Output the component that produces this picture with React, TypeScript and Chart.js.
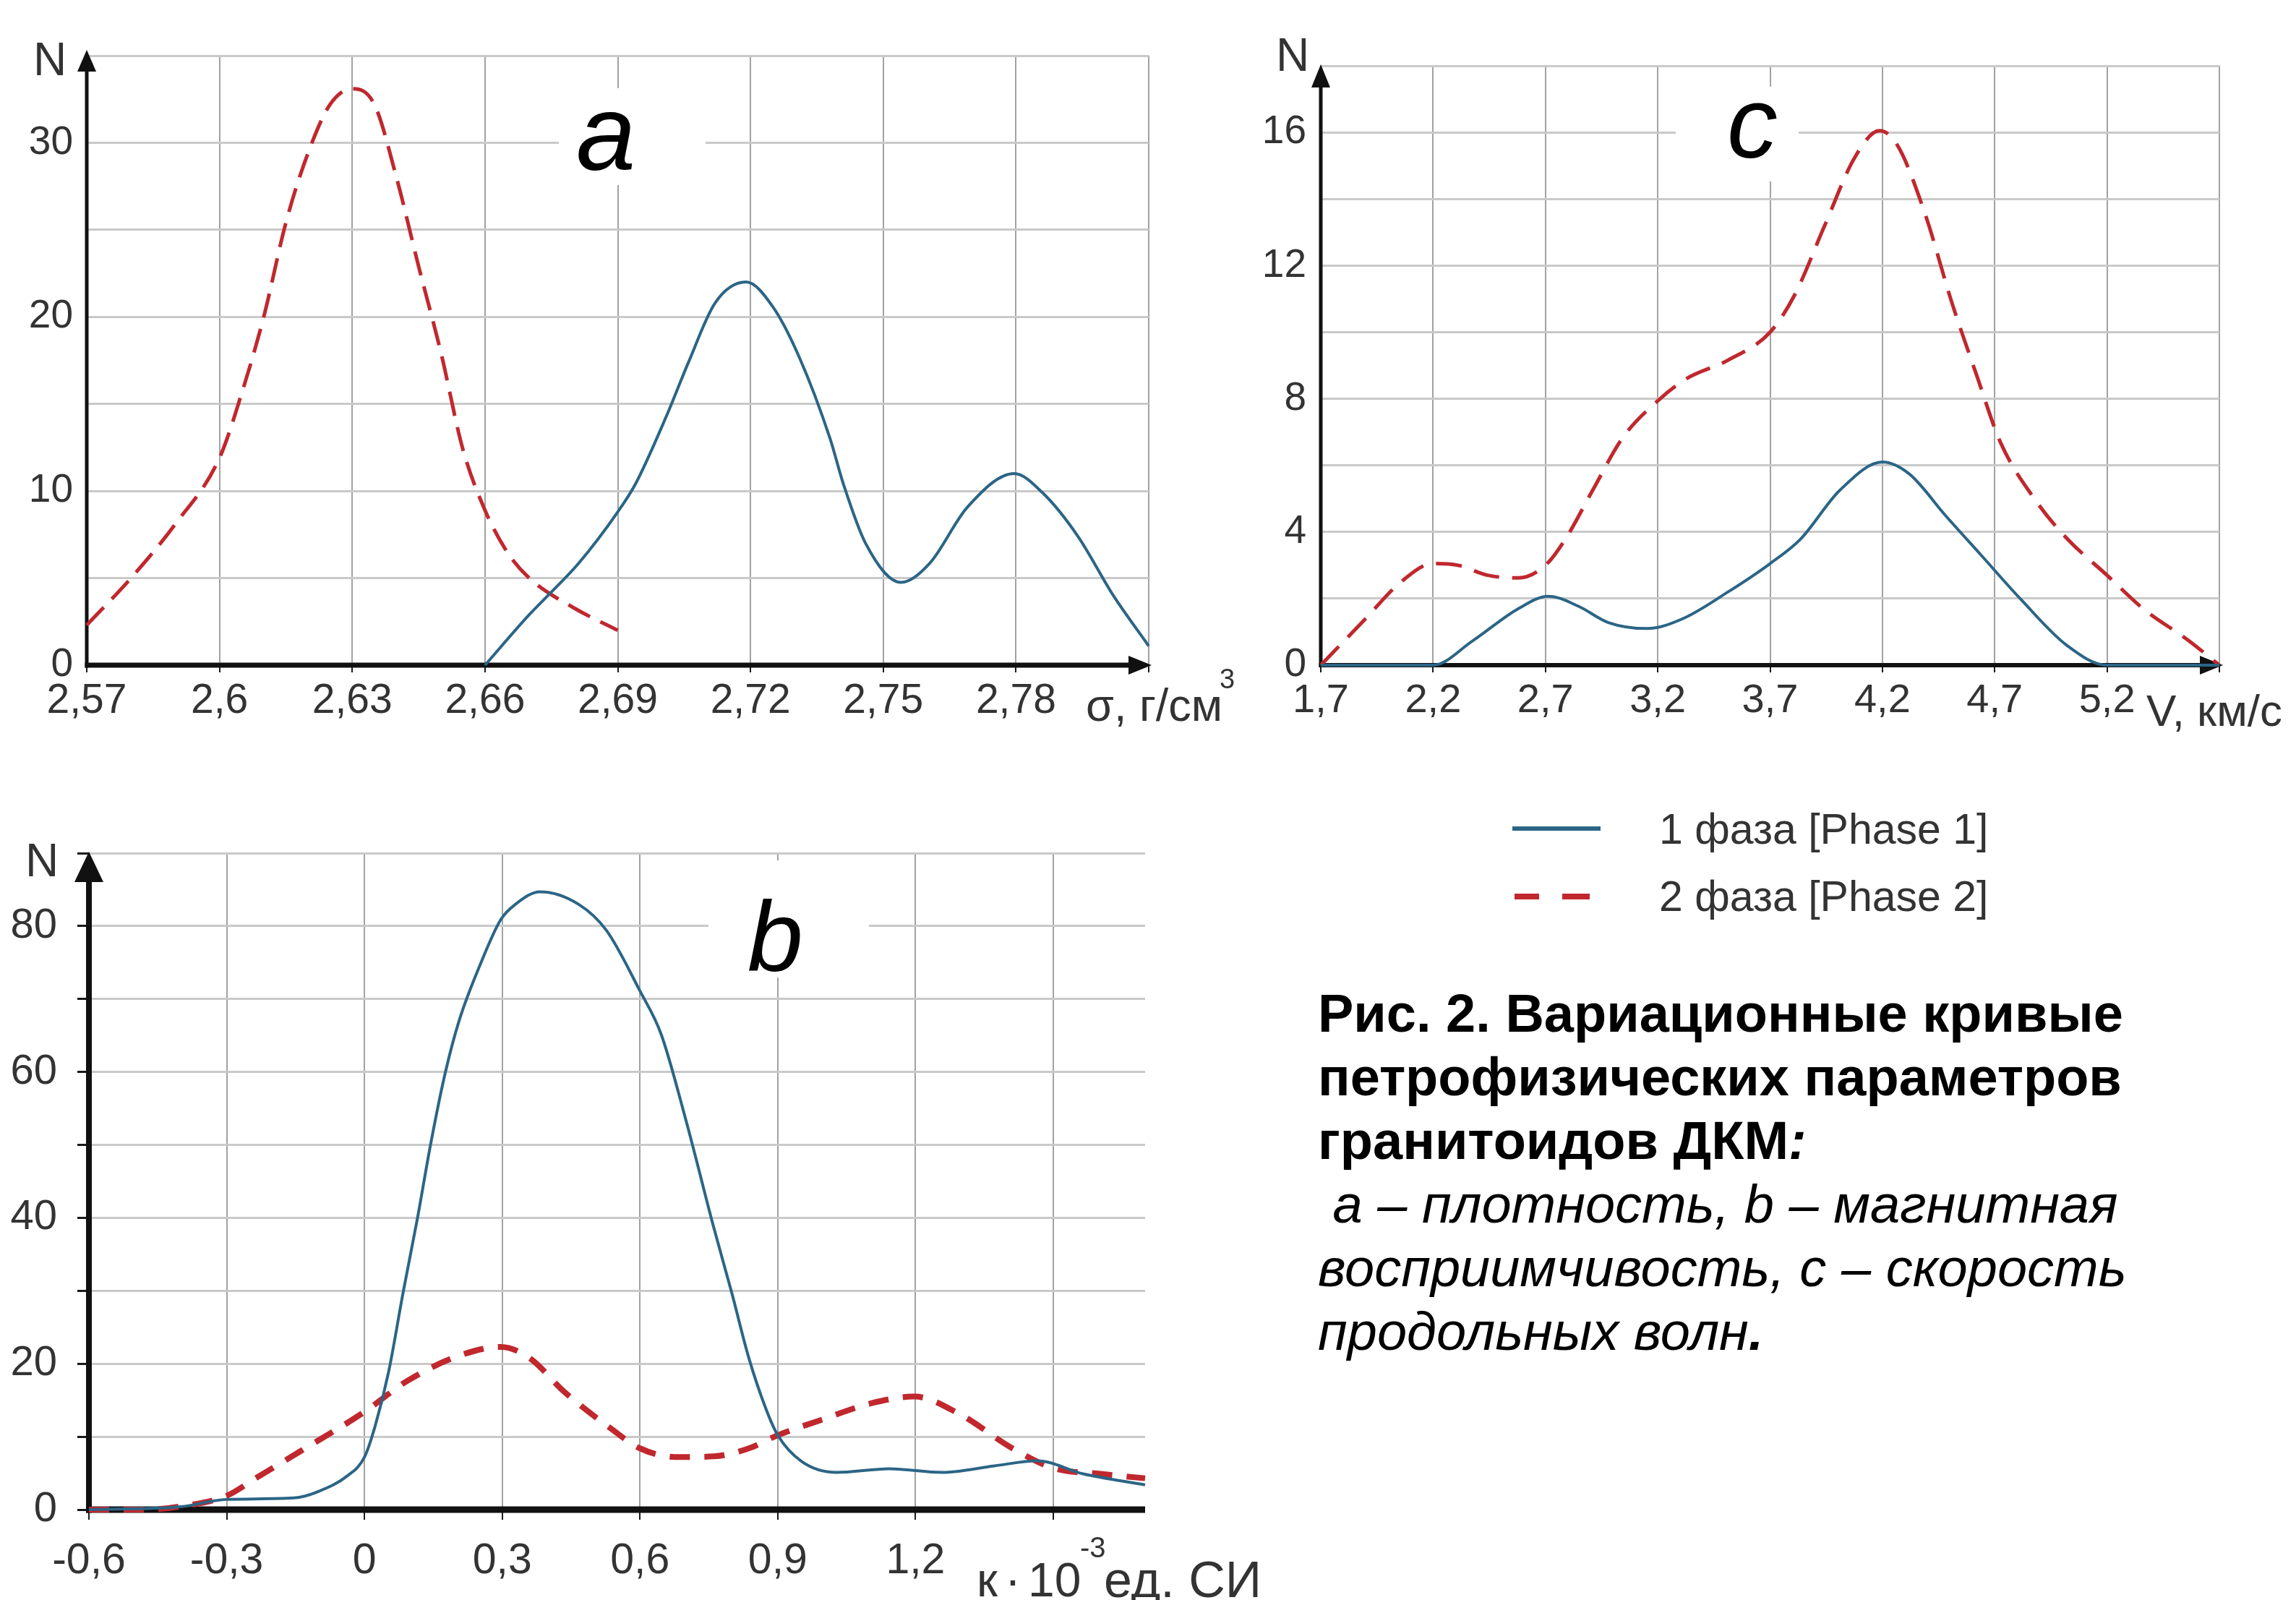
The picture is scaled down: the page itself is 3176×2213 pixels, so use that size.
import React, { useEffect, useRef } from "react";
import { Chart, registerables } from "chart.js";

Chart.register(...registerables);

// ================= DATA =================
// Panel a — density σ, г/см³
const densityTicks = [2.57, 2.6, 2.63, 2.66, 2.69, 2.72, 2.75, 2.78, 2.81];
const densityTickLabels = ["2,57", "2,6", "2,63", "2,66", "2,69", "2,72", "2,75", "2,78", ""];
const densityCountTicks = [0, 5, 10, 15, 20, 25, 30, 35];
const densityCountLabels = ["0", "", "10", "", "20", "", "30", ""];
const densityPhase1X = [2.66, 2.67, 2.675, 2.681, 2.69, 2.694, 2.701, 2.706, 2.712, 2.719, 2.725, 2.731, 2.738, 2.741, 2.746, 2.754, 2.7605, 2.769, 2.7796, 2.786, 2.794, 2.802, 2.81];
const densityPhase1Y = [0, 2.9, 4.2, 5.8, 8.8, 10.4, 14.3, 17.4, 20.8, 22.0, 20.6, 17.7, 13.0, 10.4, 7.0, 4.75, 5.85, 9.07, 11.0, 9.9, 7.4, 4.0, 1.1];
const densityPhase2X = [2.57, 2.58, 2.59, 2.6, 2.605, 2.61, 2.615, 2.62, 2.625, 2.63, 2.635, 2.64, 2.645, 2.65, 2.655, 2.66, 2.665, 2.67, 2.68, 2.69];
const densityPhase2Y = [2.3, 5.0, 8.1, 11.9, 15.6, 20.0, 25.4, 29.4, 32.2, 33.1, 32.2, 28.0, 22.9, 18.0, 12.4, 8.9, 6.5, 5.0, 3.3, 2.0];

// Panel b — magnetic susceptibility κ·10⁻³ ед. СИ
const suscTicks = [-0.6, -0.3, 0, 0.3, 0.6, 0.9, 1.2, 1.5];
const suscTickLabels = ["-0,6", "-0,3", "0", "0,3", "0,6", "0,9", "1,2", ""];
const suscCountTicks = [0, 10, 20, 30, 40, 50, 60, 70, 80, 90];
const suscCountLabels = ["0", "", "20", "", "40", "", "60", "", "80", ""];
const suscPhase1X = [-0.6, -0.4, -0.3, -0.153, -0.1, -0.038, 0, 0.023, 0.053, 0.084, 0.115, 0.145, 0.176, 0.206, 0.252, 0.297, 0.329, 0.382, 0.466, 0.527, 0.6, 0.646, 0.7, 0.761, 0.8, 0.837, 0.875, 0.9, 0.952, 1.028, 1.143, 1.258, 1.372, 1.465, 1.565, 1.7];
const suscPhase1Y = [0, 0.4, 1.4, 1.6, 2.5, 4.6, 7.2, 11.4, 19, 29.7, 39.8, 50.4, 59.9, 67, 74.7, 80.9, 83, 84.7, 83, 79.4, 71.1, 65.2, 53.4, 38.6, 29.7, 20.8, 13.7, 10.2, 6.6, 5.1, 5.6, 5.1, 6.0, 6.7, 4.9, 3.4];
const suscPhase2X = [-0.6, -0.48, -0.405, -0.3, -0.237, -0.137, 0, 0.092, 0.206, 0.297, 0.359, 0.436, 0.535, 0.6, 0.684, 0.761, 0.837, 0.9, 0.99, 1.105, 1.197, 1.296, 1.411, 1.5, 1.603, 1.7];
const suscPhase2Y = [0, 0, 0.4, 1.9, 4.3, 8.1, 13.4, 17.6, 21.1, 22.3, 20.8, 16.1, 11.2, 8.4, 7.2, 7.3, 8.4, 10.2, 12.2, 14.6, 15.5, 13.1, 8.4, 5.7, 4.9, 4.3];

// Panel c — P-wave velocity V, км/с
const velTicks = [1.7, 2.2, 2.7, 3.2, 3.7, 4.2, 4.7, 5.2, 5.7];
const velTickLabels = ["1,7", "2,2", "2,7", "3,2", "3,7", "4,2", "4,7", "5,2", ""];
const velCountTicks = [0, 2, 4, 6, 8, 10, 12, 14, 16, 18];
const velCountLabels = ["0", "", "4", "", "8", "", "12", "", "16", ""];
const velPhase1X = [1.7, 2.2, 2.376, 2.58, 2.713, 2.847, 2.98, 3.153, 3.313, 3.513, 3.7, 3.835, 4.01, 4.2, 4.32, 4.48, 4.64, 4.82, 5.02, 5.2, 5.7];
const velPhase1Y = [0, 0, 0.73, 1.7, 2.07, 1.77, 1.28, 1.1, 1.4, 2.2, 3.05, 3.78, 5.25, 6.1, 5.74, 4.5, 3.3, 1.95, 0.6, 0, 0];
const velPhase2X = [1.7, 1.9, 2.047, 2.2, 2.31, 2.443, 2.58, 2.7, 2.79, 2.91, 3.045, 3.2, 3.327, 3.513, 3.7, 3.808, 3.943, 4.078, 4.187, 4.268, 4.39, 4.51, 4.62, 4.725, 4.887, 5.022, 5.2, 5.36, 5.565, 5.7];
const velPhase2Y = [0, 1.4, 2.44, 3.05, 3.0, 2.7, 2.62, 3.0, 3.8, 5.25, 6.84, 7.94, 8.6, 9.16, 10.0, 11.1, 13.2, 15.26, 16.05, 15.6, 13.55, 10.87, 8.7, 6.7, 4.9, 3.8, 2.7, 1.7, 0.73, 0];

const legendLabels = ["1 фаза [Phase 1]", "2 фаза [Phase 2]"];

// ================= STYLE =================
const PHASE1_COLOR = "#2b6586";
const PHASE2_COLOR = "#c0282e";
const GRID_V = "#a2a2a2";
const GRID_H = "#c9c9c9";
const TICK_COLOR = "#333333";
const FONT = "'Liberation Sans', Arial, sans-serif";

const axisArrows = {
  id: "axisArrows",
  beforeDatasetsDraw(chart: any, _args: any, o: any) {
    const { ctx, chartArea } = chart;
    const { left, right, top, bottom } = chartArea;
    ctx.save();
    ctx.fillStyle = "#111";
    ctx.strokeStyle = "#111";
    // y axis
    const yTip = top - o.yTipAbove;
    ctx.lineWidth = o.yWidth;
    ctx.beginPath();
    ctx.moveTo(left, bottom + o.xWidth / 2);
    ctx.lineTo(left, yTip + o.yHeadL * 0.7);
    ctx.stroke();
    ctx.beginPath();
    ctx.moveTo(left, yTip);
    ctx.lineTo(left - o.yHeadW / 2, yTip + o.yHeadL);
    ctx.lineTo(left + o.yHeadW / 2, yTip + o.yHeadL);
    ctx.closePath();
    ctx.fill();
    // x axis
    const xEnd = right + o.xTipRight;
    ctx.lineWidth = o.xWidth;
    ctx.beginPath();
    ctx.moveTo(left - o.yWidth / 2, bottom);
    ctx.lineTo(o.xArrow ? xEnd - o.xHeadL * 0.7 : xEnd, bottom);
    ctx.stroke();
    if (o.xArrow) {
      ctx.beginPath();
      ctx.moveTo(xEnd, bottom);
      ctx.lineTo(xEnd - o.xHeadL, bottom - o.xHeadW / 2);
      ctx.lineTo(xEnd - o.xHeadL, bottom + o.xHeadW / 2);
      ctx.closePath();
      ctx.fill();
    }
    ctx.restore();
  },
};

type Series = { label: string; xs: number[]; ys: number[]; color: string; width: number; dash?: number[] };

function buildConfig(p: any) {
  return {
    type: "line",
    data: {
      datasets: p.series.map((s: Series) => ({
        label: s.label,
        data: s.xs.map((x, i) => ({ x, y: s.ys[i] })),
        borderColor: s.color,
        backgroundColor: s.color,
        borderWidth: s.width,
        borderDash: s.dash || [],
        borderCapStyle: "butt",
        pointRadius: 0,
        pointHoverRadius: 0,
        fill: false,
        cubicInterpolationMode: "monotone",
        clip: false,
      })),
    },
    options: {
      animation: false,
      responsive: false,
      devicePixelRatio: 1,
      events: [],
      layout: { padding: { top: p.padTop, right: p.padRight, left: 0, bottom: 0 } },
      plugins: { legend: { display: false }, tooltip: { enabled: false }, axisArrows: p.arrows },
      scales: {
        x: {
          type: "linear",
          min: p.xTicks[0],
          max: p.xMax,
          afterBuildTicks: (s: any) => {
            s.ticks = p.xTicks.map((v: number) => ({ value: v }));
          },
          afterFit: (s: any) => {
            s.height = p.xAxisH;
          },
          border: { display: false },
          grid: {
            color: GRID_V,
            lineWidth: 2,
            drawTicks: true,
            tickLength: p.xTickLen,
            tickColor: "#1a1a1a",
            tickWidth: 2,
          },
          ticks: {
            autoSkip: false,
            maxRotation: 0,
            minRotation: 0,
            padding: p.xTickPad,
            color: TICK_COLOR,
            font: { family: FONT, size: p.xFontSize },
            callback: (_v: any, i: number) => p.xLabels[i],
          },
        },
        y: {
          type: "linear",
          min: p.yTicks[0],
          max: p.yTicks[p.yTicks.length - 1],
          afterBuildTicks: (s: any) => {
            s.ticks = p.yTicks.map((v: number) => ({ value: v }));
          },
          afterFit: (s: any) => {
            s.width = p.yAxisW;
          },
          border: { display: false },
          grid: {
            color: GRID_H,
            lineWidth: 3,
            drawTicks: p.yTickLen > 0,
            tickLength: p.yTickLen,
            tickColor: "#1a1a1a",
            tickWidth: 3,
          },
          ticks: {
            autoSkip: false,
            padding: p.yTickPad,
            color: TICK_COLOR,
            font: { family: FONT, size: p.yFontSize },
            callback: (_v: any, i: number) => p.yLabels[i],
          },
        },
      },
    },
    plugins: [axisArrows],
  };
}

function Panel(props: { left: number; top: number; width: number; height: number; spec: any }) {
  const ref = useRef<HTMLCanvasElement>(null);
  useEffect(() => {
    const chart = new Chart(ref.current as HTMLCanvasElement, buildConfig(props.spec) as any);
    return () => chart.destroy();
  }, []);
  return (
    <canvas
      ref={ref}
      width={props.width}
      height={props.height}
      style={{ position: "absolute", left: props.left, top: props.top, width: props.width, height: props.height }}
    />
  );
}

const specA = {
  xTicks: densityTicks,
  xLabels: densityTickLabels,
  xMax: 2.81,
  yTicks: densityCountTicks,
  yLabels: densityCountLabels,
  series: [
    { label: legendLabels[0], xs: densityPhase1X, ys: densityPhase1Y, color: PHASE1_COLOR, width: 4 },
    { label: legendLabels[1], xs: densityPhase2X, ys: densityPhase2Y, color: PHASE2_COLOR, width: 5, dash: [34, 16] },
  ],
  padTop: 77,
  padRight: 111,
  yAxisW: 120,
  xAxisH: 1030 - 920,
  xTickLen: 10,
  xTickPad: 6,
  yTickLen: 0,
  yTickPad: 19,
  xFontSize: 57,
  yFontSize: 55,
  arrows: { yTipAbove: 8, yWidth: 5, yHeadW: 26, yHeadL: 30, xWidth: 7, xTipRight: 4, xArrow: true, xHeadW: 26, xHeadL: 32 },
};

const specB = {
  xTicks: suscTicks,
  xLabels: suscTickLabels,
  xMax: 1.7,
  yTicks: suscCountTicks,
  yLabels: suscCountLabels,
  series: [
    { label: legendLabels[0], xs: suscPhase1X, ys: suscPhase1Y, color: PHASE1_COLOR, width: 4 },
    { label: legendLabels[1], xs: suscPhase2X, ys: suscPhase2Y, color: PHASE2_COLOR, width: 8, dash: [28, 20] },
  ],
  padTop: 80,
  padRight: 116,
  yAxisW: 123,
  xAxisH: 1113 - 988,
  xTickLen: 14,
  xTickPad: 22,
  yTickLen: 16,
  yTickPad: 28,
  xFontSize: 59,
  yFontSize: 58,
  arrows: { yTipAbove: 2, yWidth: 8, yHeadW: 40, yHeadL: 42, xWidth: 9, xTipRight: 0, xArrow: false, xHeadW: 0, xHeadL: 0 },
};

const specC = {
  xTicks: velTicks,
  xLabels: velTickLabels,
  xMax: 5.7,
  yTicks: velCountTicks,
  yLabels: velCountLabels,
  series: [
    { label: legendLabels[0], xs: velPhase1X, ys: velPhase1Y, color: PHASE1_COLOR, width: 4 },
    { label: legendLabels[1], xs: velPhase2X, ys: velPhase2Y, color: PHASE2_COLOR, width: 5, dash: [36, 18] },
  ],
  padTop: 91,
  padRight: 1436 - 1330,
  yAxisW: 87,
  xAxisH: 1030 - 920,
  xTickLen: 10,
  xTickPad: 6,
  yTickLen: 0,
  yTickPad: 20,
  xFontSize: 56,
  yFontSize: 55,
  arrows: { yTipAbove: 2, yWidth: 5, yHeadW: 26, yHeadL: 32, xWidth: 6, xTipRight: 5, xArrow: true, xHeadW: 26, xHeadL: 32 },
};

const abs = (left: number, top: number, extra: any = {}) => ({ position: "absolute" as const, left, top, ...extra });

function Txt(props: { left: number; top: number; size: number; children: any; style?: any }) {
  return (
    <div
      style={abs(props.left, props.top, {
        fontSize: props.size,
        lineHeight: `${props.size}px`,
        whiteSpace: "pre",
        fontFamily: FONT,
        color: TICK_COLOR,
        ...(props.style || {}),
      })}
    >
      {props.children}
    </div>
  );
}

export default function App() {
  return (
    <div
      style={{
        position: "absolute",
        left: 0,
        top: 0,
        width: 3176,
        height: 2213,
        background: "#ffffff",
        overflow: "hidden",
        fontFamily: FONT,
      }}
    >
      <Panel left={0} top={0} width={1700} height={1030} spec={specA} />
      <Panel left={1740} top={0} width={1436} height={1030} spec={specC} />
      <Panel left={0} top={1100} width={1700} height={1113} spec={specB} />

      {/* axis "N" labels */}
      <Txt left={46} top={50} size={64}>N</Txt>
      <Txt left={1765} top={44} size={64}>N</Txt>
      <Txt left={35} top={1158} size={64}>N</Txt>

      {/* axis titles */}
      <Txt left={1502} top={944} size={63}>σ, г/см</Txt>
      <Txt left={1687} top={920} size={38}>3</Txt>
      <Txt left={2969} top={952} size={62}>V, км/с</Txt>
      <Txt left={1351} top={2152} size={66}>к</Txt>
      <Txt left={1390} top={2152} size={66}>·</Txt>
      <Txt left={1422} top={2152} size={66}>10</Txt>
      <Txt left={1494} top={2120} size={40}>-3</Txt>
      <Txt left={1527} top={2150} size={70}>ед. СИ</Txt>

      {/* panel letters with white masks */}
      <div style={abs(773, 122, { width: 203, height: 134, background: "#fff" })} />
      <Txt left={797} top={110} size={148} style={{ fontStyle: "italic", color: "#000" }}>a</Txt>
      <div style={abs(980, 1190, { width: 222, height: 162, background: "#fff" })} />
      <Txt left={1034} top={1226} size={138} style={{ fontStyle: "italic", color: "#000" }}>b</Txt>
      <div style={abs(2318, 120, { width: 170, height: 131, background: "#fff" })} />
      <Txt left={2389} top={100} size={140} style={{ fontStyle: "italic", color: "#000" }}>c</Txt>

      {/* legend */}
      <div style={abs(2092, 1143, { width: 122, height: 6, background: PHASE1_COLOR })} />
      <div style={abs(2095, 1236, { width: 34, height: 8, background: PHASE2_COLOR })} />
      <div style={abs(2161, 1236, { width: 38, height: 8, background: PHASE2_COLOR })} />
      <Txt left={2295} top={1118} size={59}>{legendLabels[0]}</Txt>
      <Txt left={2295} top={1211} size={59}>{legendLabels[1]}</Txt>

      {/* caption */}
      <div
        style={abs(1823, 1358, {
          fontSize: 74,
          lineHeight: "88px",
          whiteSpace: "pre",
          color: "#000",
          fontFamily: FONT,
        })}
      >
        <div style={{ fontWeight: "bold" }}>Рис. 2. Вариационные кривые</div>
        <div style={{ fontWeight: "bold" }}>петрофизических параметров</div>
        <div style={{ fontWeight: "bold" }}>
          гранитоидов ДКМ<i>:</i>
        </div>
        <div style={{ fontStyle: "italic" }}> a – плотность, b – магнитная</div>
        <div style={{ fontStyle: "italic" }}>восприимчивость, c – скорость</div>
        <div style={{ fontStyle: "italic" }}>
          продольных волн<b>.</b>
        </div>
      </div>
    </div>
  );
}
